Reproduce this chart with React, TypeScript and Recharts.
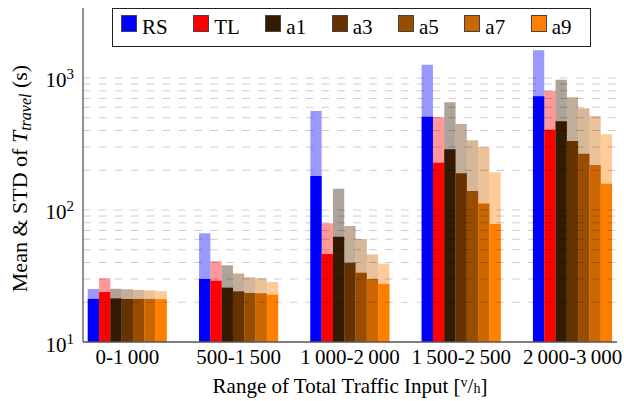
import React from "react";
import { BarChart, Bar, XAxis, YAxis, ReferenceLine } from "recharts";

const FONT = "'Liberation Serif', 'Times New Roman', serif";

const categories = [
  "0-1\u2009000",
  "500-1\u2009500",
  "1\u2009000-2\u2009000",
  "1\u2009500-2\u2009500",
  "2\u2009000-3\u2009000",
];

const seriesNames = ["RS", "TL", "a1", "a3", "a5", "a7", "a9"];
const seriesColors = ["#0000ff", "#ff0000", "#331a00", "#663300", "#994d00", "#cc6600", "#ff8000"];

const meanRS = [21.2, 30.0, 181, 509, 727];
const stdRS = [4.0, 36.6, 381, 753, 895];
const meanTL = [23.9, 29.1, 46.4, 228, 406];
const stdTL = [6.5, 11.8, 32.9, 279, 395];
const meanA1 = [21.4, 25.8, 62.8, 288, 470];
const stdA1 = [3.9, 12.3, 82.2, 367, 501];
const meanA3 = [21.2, 24.2, 39.9, 190, 333];
const stdA3 = [3.9, 8.9, 35.7, 259, 381];
const meanA5 = [21.2, 23.5, 33.5, 139, 267];
const stdA5 = [3.6, 7.4, 26.7, 198, 322];
const meanA7 = [21.2, 23.4, 30.0, 112, 219];
const stdA7 = [3.4, 7.1, 16.0, 188, 296];
const meanA9 = [21.1, 22.8, 27.5, 78.3, 158];
const stdA9 = [3.2, 5.7, 11.8, 114.7, 216];

const yTicks = [10, 100, 1000];
const gridValues = [
  20, 30, 40, 50, 60, 70, 80, 90, 100,
  200, 300, 400, 500, 600, 700, 800, 900, 1000,
];

const means = [meanRS, meanTL, meanA1, meanA3, meanA5, meanA7, meanA9];
const stds = [stdRS, stdTL, stdA1, stdA3, stdA5, stdA7, stdA9];

const data = categories.map((cat, i) => {
  const row: Record<string, any> = { cat };
  seriesNames.forEach((s, k) => {
    row[s + "_mean"] = means[k][i];
    row[s + "_top"] = means[k][i] + stds[k][i];
  });
  return row;
});

const XTick = (props: any) => {
  const { x, y, payload } = props;
  return (
    <text x={x} y={y + 14} textAnchor="middle" fontSize={21} fontFamily={FONT} fill="#000">
      {payload.value}
    </text>
  );
};

const YTick = (props: any) => {
  const { y, payload } = props;
  const exp = Math.round(Math.log10(payload.value));
  return (
    <text x={74} y={y + 9.5} textAnchor="end" fontSize={21} fontFamily={FONT} fill="#000">
      10
      <tspan fontSize={15} dy={-8}>
        {exp}
      </tspan>
    </text>
  );
};

const XTitle = () => (
  <text x={350} y={393} textAnchor="middle" fontSize={21} fontFamily={FONT} fill="#000">
    Range of Total Traffic Input [
    <tspan fontSize={14} dy={-6}>v</tspan>
    <tspan dy={6}>/</tspan>
    <tspan fontSize={14}>h</tspan>
    <tspan>]</tspan>
  </text>
);

const YTitle = () => (
  <text
    transform="rotate(-90)"
    x={-178.5}
    y={27}
    textAnchor="middle"
    fontSize={22}
    fontFamily={FONT}
    fill="#000"
  >
    Mean &amp; STD of{" "}
    <tspan fontStyle="italic">T</tspan>
    <tspan fontStyle="italic" fontSize={16} dy={4}>
      travel
    </tspan>
    <tspan dy={-4}> (s)</tspan>
  </text>
);

const LegendBox = () => (
  <div
    style={{
      position: "absolute",
      left: 112,
      top: 8,
      width: 479,
      height: 39,
      boxSizing: "border-box",
      border: "1px solid #222",
      background: "#fff",
      display: "flex",
      alignItems: "flex-start",
      paddingLeft: 8,
      fontFamily: FONT,
      fontSize: 21,
      color: "#000",
    }}
  >
    {seriesNames.map((s, k) => (
      <div key={s} style={{ display: "flex", alignItems: "flex-start", marginRight: 25.5 }}>
        <div
          style={{
            width: 16,
            height: 17,
            boxSizing: "border-box",
            marginTop: 6,
            marginRight: 5,
            background: seriesColors[k],
            border: "1px solid #444",
          }}
        />
        <span style={{ lineHeight: "24px", marginTop: 6 }}>{s}</span>
      </div>
    ))}
  </div>
);

export default function App() {
  return (
    <div style={{ position: "relative", width: 624, height: 401, background: "#fff" }}>
      <style>{"html,body{margin:0;padding:0;overflow:hidden;background:#fff}"}</style>
      <BarChart
        width={624}
        height={401}
        data={data}
        margin={{ top: 8, right: 7, left: 0, bottom: 0 }}
        barGap={0}
      >
        <XAxis
          xAxisId="front"
          dataKey="cat"
          height={59}
          interval={0}
          padding={{ left: -11.25, right: -11.25 }}
          tick={<XTick />}
          tickLine={false}
          axisLine={{ stroke: "#555", strokeWidth: 1.3 }}
          label={<XTitle />}
        />
        <XAxis
          xAxisId="back"
          dataKey="cat"
          hide
          height={0}
          padding={{ left: -11.25, right: -11.25 }}
        />
        <YAxis
          scale="log"
          type="number"
          domain={[10, 3390]}
          allowDataOverflow
          ticks={yTicks}
          width={83}
          tick={<YTick />}
          tickLine={false}
          axisLine={{ stroke: "#555", strokeWidth: 1.3 }}
          label={<YTitle />}
        />
        {seriesNames.map((s, k) => (
          <Bar
            key={s + "_top"}
            xAxisId="back"
            dataKey={s + "_top"}
            fill={seriesColors[k]}
            fillOpacity={0.4}
            barSize={11.3}
            isAnimationActive={false}
          />
        ))}
        {seriesNames.map((s, k) => (
          <Bar
            key={s + "_mean"}
            xAxisId="front"
            dataKey={s + "_mean"}
            fill={seriesColors[k]}
            barSize={11.3}
            isAnimationActive={false}
          />
        ))}
        {gridValues.map((v) => (
          <ReferenceLine
            key={"g" + v}
            xAxisId="front"
            y={v}
            stroke="#000"
            strokeOpacity={0.2}
            strokeWidth={1}
            strokeDasharray="7.7 8.2"
          />
        ))}
      </BarChart>
      <LegendBox />
    </div>
  );
}
